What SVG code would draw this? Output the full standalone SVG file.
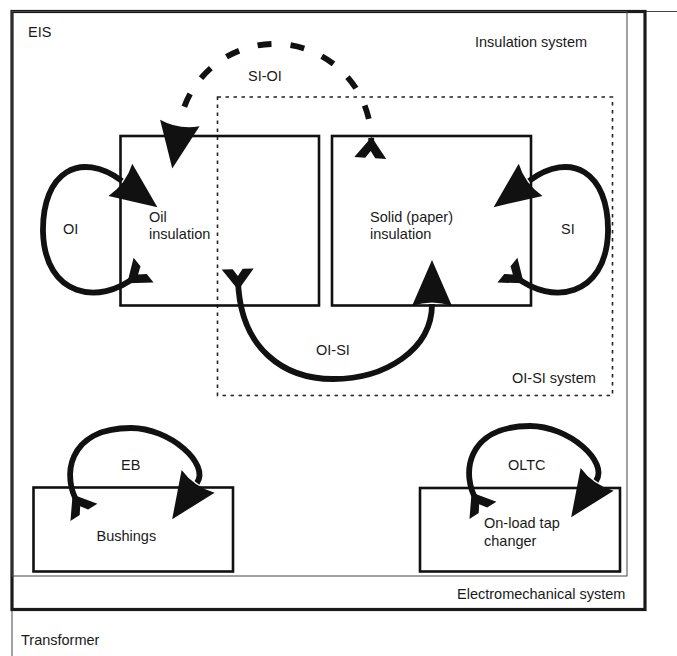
<svg xmlns="http://www.w3.org/2000/svg" width="677" height="656" viewBox="0 0 677 656">
<style>
text{font-family:"Liberation Sans",Arial,sans-serif;font-size:14.5px;fill:#1a1a1a}
.node{fill:none;stroke:#111;stroke-width:2.6}
.thin{fill:none;stroke:#444;stroke-width:1}
.thick{fill:none;stroke:#1a1a1a;stroke-width:3.2}
.dot{fill:none;stroke:#222;stroke-width:1.6;stroke-dasharray:3.5 4.5}
.flow{fill:none;stroke:#111;stroke-width:5.8;marker-start:url(#tail);marker-end:url(#head)}
.dash{stroke-dasharray:14 19.2;stroke-dashoffset:4.8}
</style>
<defs>
<marker id="head" markerUnits="userSpaceOnUse" orient="auto" markerWidth="1" markerHeight="1" refX="0" refY="0" style="overflow:visible">
<path d="M44,0 L-2,-20 Q5,0 -2,20 Z" fill="#111"/>
</marker>
<marker id="tail" markerUnits="userSpaceOnUse" orient="auto" markerWidth="1" markerHeight="1" refX="0" refY="0" style="overflow:visible">
<path d="M10,0 L-11,-16 L-11,-5 L-4,0 L-11,5 L-11,16 Z" fill="#111"/>
</marker>
</defs>

<g id="transformer">
<path class="thin" d="M12 656 V11.5 H677"/>
<text x="21" y="644.5">Transformer</text>
</g>
<g id="electromechanical-system">
<rect class="thick" x="12" y="11.5" width="633" height="598"/>
<text x="457" y="598.5">Electromechanical system</text>
</g>
<g id="insulation-system">
<rect class="thin" x="12" y="11.5" width="615" height="564.5"/>
<text x="28" y="37">EIS</text>
<text x="475" y="47">Insulation system</text>
</g>
<g id="oi-si-system">
<rect class="dot" x="217.5" y="97" width="395" height="298.5"/>
<text x="512" y="383">OI-SI system</text>
</g>
<g id="oil-insulation">
<rect class="node" x="120.5" y="136" width="198.5" height="169.5"/>
<text x="149" y="222">Oil</text>
<text x="149" y="238.5">insulation</text>
</g>
<g id="solid-insulation">
<rect class="node" x="332" y="136" width="199" height="169.5"/>
<text x="370" y="222">Solid (paper)</text>
<text x="370" y="238.5">insulation</text>
</g>
<g id="bushings">
<rect class="node" x="33.5" y="487.5" width="199.5" height="84"/>
<text x="96.5" y="541">Bushings</text>
</g>
<g id="oltc">
<rect class="node" x="420" y="488" width="200" height="83.5"/>
<text x="484" y="528">On-load tap</text>
<text x="484" y="546">changer</text>
</g>

<g id="connectors">
<path id="OI" class="flow" d="M135 277 C100 305 45 298 43 232 C42 172 80 150 122 181"/>
<path id="SI" class="flow" d="M516 277 C551 305 606 298 608 232 C609 172 571 150 529 181"/>
<path id="OI-SI" class="flow" d="M238 280 C240 350 285 379 333 379 C385 379 432 350 432 304"/>
<path id="SI-OI" class="flow dash" d="M371 147 A96.5 96.5 0 0 0 180 122 L179.5 125"/>
<path id="EB" class="flow" d="M78 503 C62 478 66 428 131 428 C170 428 210 464 197 483"/>
<path id="OLTC" class="flow" d="M477 501 C461 476 465 426 530 426 C569 426 609 462 596 481"/>
<text x="63" y="233.5">OI</text>
<text x="561" y="234">SI</text>
<text x="316" y="355">OI-SI</text>
<text x="248" y="81">SI-OI</text>
<text x="121" y="470">EB</text>
<text x="508" y="470">OLTC</text>
</g>
</svg>
